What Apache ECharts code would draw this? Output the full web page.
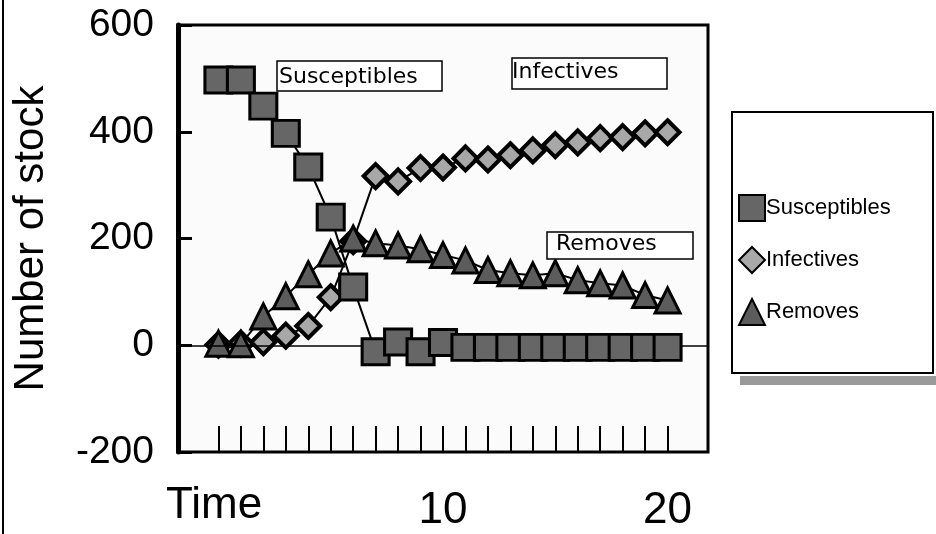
<!DOCTYPE html>
<html>
<head>
<meta charset="utf-8">
<script src="https://cdn.jsdelivr.net/npm/echarts@6/dist/echarts.min.js"></script>
<style>
  html, body { margin: 0; padding: 0; background: #fff; }
  #chart { width: 936px; height: 534px; }
</style>
</head>
<body>
<div id="chart"></div>
<script>
// time steps and model output
var time = [0, 1, 2, 3, 4, 5, 6, 7, 8, 9, 10, 11, 12, 13, 14, 15, 16, 17, 18, 19, 20];
var susceptibles = [497, 497, 448, 397, 334, 240, 109, -12, 6, -12, 5, -4, -4, -4, -4, -4, -4, -4, -4, -4, -4];
var infectives = [1, 3, 6, 18, 36, 90, 195, 317, 307, 332, 333, 350, 348, 356, 365, 375, 380, 388, 390, 397, 399];
var removes = [3, 2, 54, 92, 133, 172, 200, 191, 187, 180, 169, 159, 141, 135, 131, 135, 122, 116, 112, 94, 84];
var xLabels = [10, 20];

var font = 'Liberation Sans, Arial, sans-serif';
var wide = 'DejaVu Sans, sans-serif';

function pairs(vals) {
  return vals.map(function (v, i) { return [time[i], v]; });
}

var option = {
  animation: false,
  backgroundColor: '#fff',
  grid: {
    left: 178, right: 228, top: 25, bottom: 82,
    show: true, borderColor: '#000', borderWidth: 3, backgroundColor: '#fbfbfb'
  },
  xAxis: {
    type: 'value',
    min: -1.8, max: 21.8,
    axisLine: { show: false, onZero: false },
    splitLine: { show: false },
    axisTick: {
      show: true, inside: true, length: 26,
      lineStyle: { color: '#000', width: 2 },
      customValues: time
    },
    axisLabel: {
      customValues: xLabels,
      color: '#000', fontSize: 44, fontFamily: font, margin: 37
    }
  },
  yAxis: {
    type: 'value',
    min: -200, max: 600, interval: 200,
    name: 'Number of stock',
    nameLocation: 'middle',
    nameGap: 126,
    nameTextStyle: { color: '#000', fontSize: 42, fontFamily: font },
    axisLine: { show: true, onZero: false, lineStyle: { color: '#000', width: 5 } },
    splitLine: { show: false },
    axisTick: { show: true, inside: true, length: 14, lineStyle: { color: '#000', width: 3 } },
    axisLabel: { color: '#000', fontSize: 39, fontFamily: font, margin: 24 }
  },
  legend: {
    orient: 'vertical',
    left: 733, top: 189,
    itemWidth: 26, itemHeight: 26, itemGap: 24,
    textStyle: { color: '#000', fontSize: 22, fontFamily: font, padding: [8, 0, 0, -4] },
    data: [
      { name: 'Susceptibles', icon: 'rect' },
      { name: 'Infectives', icon: 'diamond' },
      { name: 'Removes', icon: 'triangle' }
    ]
  },
  series: [
    {
      name: 'Infectives',
      type: 'line',
      data: pairs(infectives),
      symbol: 'diamond',
      symbolSize: 24,
      lineStyle: { color: '#000', width: 2 },
      itemStyle: { color: '#a8a8a8', borderColor: '#000', borderWidth: 4 },
      z: 3
    },
    {
      name: 'Removes',
      type: 'line',
      data: pairs(removes),
      symbol: 'triangle',
      symbolSize: 25,
      lineStyle: { color: '#000', width: 2 },
      itemStyle: { color: '#5c5c5c', borderColor: '#000', borderWidth: 3 },
      z: 4
    },
    {
      name: 'Susceptibles',
      type: 'line',
      data: pairs(susceptibles),
      symbol: 'rect',
      symbolSize: [27, 26],
      lineStyle: { color: '#000', width: 2 },
      itemStyle: { color: '#666', borderColor: '#000', borderWidth: 3 },
      markLine: {
        silent: true,
        symbol: 'none',
        label: { show: false },
        lineStyle: { color: '#000', width: 1.5, type: 'solid' },
        data: [{ yAxis: 0 }]
      },
      z: 5
    }
  ],
  graphic: [
    { type: 'line', shape: { x1: 3, y1: 0, x2: 3, y2: 534 }, style: { stroke: '#000', lineWidth: 2 } },
    { type: 'text', left: 166, top: 484, style: { text: 'Time', fontSize: 44, fontFamily: font, fill: '#000' } },
    // in-plot series captions
    { type: 'rect', shape: { x: 277, y: 61, width: 165, height: 30 }, style: { fill: '#fff', stroke: '#000', lineWidth: 1.5 }, z: 10 },
    { type: 'text', left: 279, top: 66, style: { text: 'Susceptibles', fontSize: 22, fontFamily: wide, fill: '#000' }, z: 11 },
    { type: 'rect', shape: { x: 512, y: 58, width: 155, height: 31 }, style: { fill: '#fff', stroke: '#000', lineWidth: 1.5 }, z: 10 },
    { type: 'text', left: 512, top: 61, style: { text: 'Infectives', fontSize: 22, fontFamily: wide, fill: '#000' }, z: 11 },
    { type: 'rect', shape: { x: 547, y: 232, width: 146, height: 27 }, style: { fill: '#fff', stroke: '#000', lineWidth: 1.5 }, z: 10 },
    { type: 'text', left: 556, top: 233, style: { text: 'Removes', fontSize: 22, fontFamily: wide, fill: '#000' }, z: 11 },
    // legend frame and its shadow
    { type: 'rect', shape: { x: 740, y: 376, width: 196, height: 9 }, style: { fill: '#9a9a9a' }, z: 0 },
    { type: 'rect', shape: { x: 732, y: 112, width: 201, height: 261 }, style: { fill: '#fff', stroke: '#000', lineWidth: 2 }, z: 1 }
  ]
};

var chart = echarts.init(document.getElementById('chart'));
chart.setOption(option);
</script>
</body>
</html>
